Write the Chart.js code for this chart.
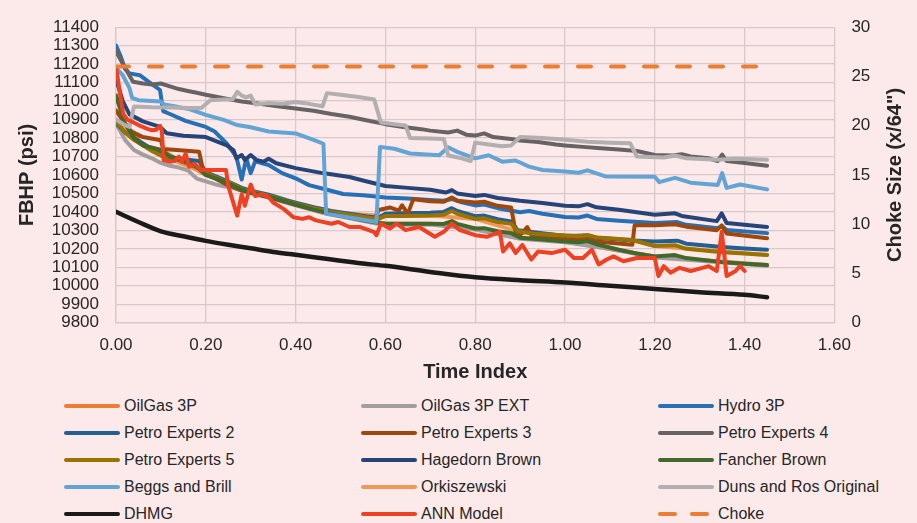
<!DOCTYPE html>
<html>
<head>
<meta charset="utf-8">
<script src="https://cdn.jsdelivr.net/npm/chart.js@4.4.1/dist/chart.umd.min.js"></script>
<style>
  html, body { margin: 0; padding: 0; background: #fceaeb; }
  #wrap { position: relative; width: 917px; height: 523px; overflow: hidden; }
  #fbhp { display: block; }
  #legend {
    position: absolute; left: 64px; top: 392px;
    display: grid; grid-template-columns: 297px 297px 297px; grid-auto-rows: 27px;
    font: 16px "Liberation Sans", Arial, sans-serif; color: #262626;
  }
  .item { display: flex; align-items: center; white-space: nowrap; }
  .swatch { width: 56px; height: 4px; border-radius: 2px; margin-right: 4px; }
  .dashes { display: flex; justify-content: space-between; width: 51px; margin-right: 9px; }
  .dashes span { width: 19px; height: 4px; border-radius: 2px; }
</style>
</head>
<body>
<div id="wrap">
  <canvas id="fbhp" width="917" height="392"></canvas>
  <div id="legend"></div>
</div>
<script>
// [time index, FBHP psi]
var oilGas3P = [[0,11030],[0.02,10880],[0.06,10760],[0.1,10735],[0.2,10600],[0.3,10505],[0.4,10440],[0.5,10380],[0.6,10336],[0.7,10336],[0.8,10310],[0.9,10260],[1.0,10240],[1.2,10158],[1.45,10112]];
var oilGas3PExt = [[0,10880],[0.02,10790],[0.04,10735],[0.06,10710],[0.08,10690],[0.1,10665],[0.12,10650],[0.14,10640],[0.16,10625],[0.18,10580],[0.2,10565],[0.22,10550],[0.24,10538],[0.26,10530],[0.3,10500],[0.34,10477],[0.4,10435],[0.46,10395],[0.52,10365],[0.58,10337],[0.64,10330],[0.7,10331],[0.8,10305],[0.9,10255],[1.0,10235],[1.1,10200],[1.2,10153],[1.3,10135],[1.45,10108]];
var hydro3P = [[0,11300],[0.01,11245],[0.02,11175],[0.03,11150],[0.053,11140],[0.07,11110],[0.098,11060],[0.105,10946],[0.12,10930],[0.155,10893],[0.2,10860],[0.22,10835],[0.247,10769],[0.268,10699],[0.28,10575],[0.29,10690],[0.3,10610],[0.31,10674],[0.34,10654],[0.37,10610],[0.4,10582],[0.43,10545],[0.47,10520],[0.506,10497],[0.55,10490],[0.6,10478],[0.65,10472],[0.7,10465],[0.73,10460],[0.748,10470],[0.77,10452],[0.8,10435],[0.82,10440],[0.85,10420],[0.9,10398],[0.92,10405],[0.95,10390],[1.0,10372],[1.03,10370],[1.05,10380],[1.07,10362],[1.12,10352],[1.2,10340],[1.25,10345],[1.27,10330],[1.34,10312],[1.35,10322],[1.36,10302],[1.45,10285]];
var petroExperts2 = [[0,10880],[0.02,10830],[0.04,10800],[0.06,10770],[0.08,10740],[0.1,10720],[0.12,10692],[0.16,10682],[0.185,10676],[0.2,10615],[0.24,10575],[0.28,10530],[0.3,10515],[0.34,10493],[0.38,10463],[0.4,10450],[0.44,10425],[0.48,10405],[0.52,10390],[0.56,10375],[0.585,10368],[0.6,10390],[0.64,10393],[0.7,10395],[0.73,10400],[0.748,10420],[0.76,10405],[0.8,10377],[0.82,10380],[0.85,10360],[0.88,10348],[0.895,10300],[0.93,10290],[1.0,10270],[1.05,10272],[1.07,10260],[1.15,10245],[1.2,10240],[1.25,10244],[1.27,10228],[1.35,10210],[1.4,10202],[1.45,10195]];
var petroExperts3 = [[0,10950],[0.03,10840],[0.06,10805],[0.1,10788],[0.105,10740],[0.15,10733],[0.185,10726],[0.195,10615],[0.22,10582],[0.245,10550],[0.28,10515],[0.34,10480],[0.4,10438],[0.46,10402],[0.52,10378],[0.575,10360],[0.585,10410],[0.61,10424],[0.63,10407],[0.637,10436],[0.65,10389],[0.662,10469],[0.7,10458],[0.73,10455],[0.748,10478],[0.76,10460],[0.8,10451],[0.82,10455],[0.85,10433],[0.88,10424],[0.89,10292],[0.9,10274],[0.916,10318],[0.926,10270],[0.95,10262],[1.0,10250],[1.05,10252],[1.07,10240],[1.15,10222],[1.155,10327],[1.2,10327],[1.245,10333],[1.27,10320],[1.338,10301],[1.349,10327],[1.36,10283],[1.45,10257]];
var petroExperts4 = [[0,11270],[0.02,11180],[0.038,11105],[0.06,11095],[0.08,11090],[0.1,11095],[0.12,11080],[0.14,11065],[0.16,11055],[0.18,11045],[0.2,11034],[0.24,11015],[0.28,10998],[0.32,10985],[0.36,10972],[0.4,10960],[0.44,10948],[0.48,10930],[0.52,10915],[0.56,10895],[0.6,10875],[0.64,10860],[0.68,10848],[0.7,10840],[0.74,10830],[0.76,10840],[0.78,10818],[0.8,10813],[0.82,10825],[0.84,10805],[0.88,10795],[0.9,10787],[0.94,10778],[0.98,10765],[1.0,10760],[1.04,10752],[1.08,10745],[1.12,10738],[1.16,10730],[1.2,10708],[1.24,10705],[1.26,10712],[1.28,10700],[1.32,10690],[1.34,10675],[1.35,10710],[1.36,10675],[1.4,10665],[1.45,10650]];
var petroExperts5 = [[0,10890],[0.02,10830],[0.04,10790],[0.06,10760],[0.08,10730],[0.1,10705],[0.12,10690],[0.14,10680],[0.16,10660],[0.18,10640],[0.2,10610],[0.22,10590],[0.24,10570],[0.26,10550],[0.28,10525],[0.3,10510],[0.34,10488],[0.38,10458],[0.4,10445],[0.44,10420],[0.48,10400],[0.52,10385],[0.56,10370],[0.585,10362],[0.6,10378],[0.64,10378],[0.7,10380],[0.73,10385],[0.748,10405],[0.76,10390],[0.8,10362],[0.82,10365],[0.85,10345],[0.88,10335],[0.895,10295],[0.93,10282],[1.0,10272],[1.03,10268],[1.05,10275],[1.07,10262],[1.15,10248],[1.2,10215],[1.245,10220],[1.27,10200],[1.35,10182],[1.4,10175],[1.45,10167]];
var hagedornBrown = [[0,11120],[0.015,11000],[0.03,10928],[0.06,10890],[0.098,10860],[0.113,10826],[0.15,10812],[0.2,10805],[0.247,10760],[0.262,10733],[0.268,10690],[0.28,10708],[0.287,10681],[0.3,10708],[0.313,10681],[0.328,10672],[0.34,10688],[0.357,10663],[0.4,10637],[0.46,10610],[0.52,10589],[0.55,10570],[0.6,10540],[0.65,10530],[0.7,10520],[0.735,10505],[0.748,10518],[0.76,10500],[0.8,10486],[0.82,10492],[0.85,10475],[0.9,10460],[0.95,10448],[1.0,10433],[1.03,10430],[1.05,10442],[1.07,10425],[1.12,10412],[1.2,10385],[1.245,10392],[1.26,10378],[1.338,10350],[1.349,10392],[1.36,10340],[1.45,10318]];
var fancherBrown = [[0,11030],[0.02,10880],[0.04,10800],[0.06,10760],[0.1,10735],[0.12,10700],[0.16,10670],[0.18,10645],[0.2,10600],[0.24,10565],[0.28,10520],[0.3,10505],[0.34,10482],[0.38,10455],[0.4,10440],[0.44,10412],[0.48,10390],[0.52,10370],[0.56,10350],[0.6,10336],[0.7,10336],[0.73,10335],[0.748,10350],[0.76,10335],[0.8,10310],[0.82,10312],[0.85,10295],[0.88,10285],[0.9,10260],[0.95,10250],[1.0,10240],[1.03,10236],[1.05,10242],[1.07,10225],[1.12,10195],[1.16,10175],[1.2,10158],[1.245,10166],[1.27,10150],[1.35,10128],[1.4,10119],[1.45,10112]];
var beggsBrill = [[0,11180],[0.015,11140],[0.03,11070],[0.036,11017],[0.05,11005],[0.1,10998],[0.107,10981],[0.13,10972],[0.165,10955],[0.2,10925],[0.24,10898],[0.27,10870],[0.3,10858],[0.34,10835],[0.4,10825],[0.44,10790],[0.462,10769],[0.468,10390],[0.5,10378],[0.54,10362],[0.58,10345],[0.588,10752],[0.62,10742],[0.655,10716],[0.72,10707],[0.74,10750],[0.76,10725],[0.8,10690],[0.83,10707],[0.86,10672],[0.89,10678],[0.92,10645],[0.95,10627],[1.0,10619],[1.03,10612],[1.05,10625],[1.09,10592],[1.2,10590],[1.21,10561],[1.245,10584],[1.28,10558],[1.34,10545],[1.35,10610],[1.36,10530],[1.39,10548],[1.45,10522]];
var orkiszewski = [[0,10890],[0.04,10790],[0.1,10705],[0.2,10610],[0.3,10510],[0.4,10445],[0.5,10392],[0.6,10378],[0.7,10380],[0.8,10362],[0.9,10290],[1.0,10272],[1.15,10248],[1.2,10215],[1.45,10167]];
var dunsRosOriginal = [[0,10900],[0.02,10870],[0.03,10860],[0.04,10970],[0.08,10966],[0.12,10965],[0.16,10962],[0.19,10962],[0.21,11005],[0.24,11008],[0.26,11010],[0.27,11050],[0.28,11030],[0.29,11020],[0.3,11030],[0.31,10982],[0.34,10990],[0.37,10985],[0.4,10995],[0.43,10985],[0.46,10972],[0.47,11043],[0.5,11034],[0.54,11022],[0.575,11008],[0.59,10884],[0.62,10875],[0.645,10868],[0.655,10800],[0.7,10798],[0.73,10795],[0.74,10705],[0.77,10690],[0.79,10675],[0.8,10775],[0.83,10765],[0.86,10755],[0.88,10760],[0.9,10805],[0.95,10800],[1.0,10790],[1.05,10780],[1.1,10775],[1.145,10772],[1.16,10700],[1.22,10695],[1.245,10705],[1.27,10690],[1.34,10682],[1.38,10688],[1.45,10682]];
var dhmg = [[0,10400],[0.02,10378],[0.05,10345],[0.1,10295],[0.15,10268],[0.2,10243],[0.25,10222],[0.3,10203],[0.35,10183],[0.4,10168],[0.45,10152],[0.5,10135],[0.55,10120],[0.6,10108],[0.7,10075],[0.8,10046],[0.9,10030],[1.0,10018],[1.1,10000],[1.2,9983],[1.3,9965],[1.4,9951],[1.45,9938]];
var annModel = [[0,11185],[0.016,10930],[0.025,10900],[0.038,10886],[0.05,10870],[0.07,10850],[0.08,10842],[0.09,10845],[0.098,10866],[0.102,10840],[0.106,10680],[0.12,10672],[0.13,10675],[0.14,10699],[0.147,10670],[0.155,10716],[0.163,10645],[0.175,10660],[0.19,10627],[0.245,10627],[0.25,10540],[0.26,10460],[0.27,10380],[0.28,10495],[0.287,10433],[0.3,10548],[0.31,10486],[0.325,10495],[0.34,10480],[0.35,10451],[0.374,10415],[0.395,10371],[0.415,10362],[0.43,10371],[0.445,10354],[0.48,10336],[0.495,10345],[0.52,10318],[0.544,10318],[0.574,10292],[0.58,10274],[0.59,10336],[0.61,10310],[0.625,10336],[0.645,10301],[0.675,10318],[0.71,10265],[0.73,10292],[0.748,10336],[0.766,10301],[0.8,10274],[0.826,10265],[0.855,10292],[0.862,10186],[0.877,10230],[0.89,10177],[0.905,10221],[0.925,10142],[0.94,10186],[0.97,10177],[1.0,10195],[1.02,10150],[1.04,10150],[1.06,10195],[1.075,10115],[1.093,10142],[1.108,10159],[1.13,10133],[1.16,10150],[1.2,10150],[1.208,10053],[1.22,10106],[1.235,10071],[1.255,10097],[1.28,10080],[1.3,10093],[1.32,10106],[1.338,10080],[1.349,10292],[1.36,10053],[1.38,10080],[1.39,10106],[1.4,10080]];
// choke size x/64" (right axis)
var choke = [[0,26],[1.45,26]];

var xTicks = { min: 0, max: 1.6, step: 0.2 };
var yTicks = { min: 9800, max: 11400, step: 100 };
var y1Ticks = { min: 0, max: 30, step: 5 };

function pts(arr) {
  return arr.map(function (p) { return { x: p[0], y: p[1] }; });
}

function line(label, arr, color, z, extra) {
  var ds = {
    label: label,
    data: pts(arr),
    borderColor: color,
    backgroundColor: color,
    borderWidth: 4,
    pointRadius: 0,
    tension: 0,
    borderJoinStyle: 'round',
    borderCapStyle: 'round',
    yAxisID: 'y',
    order: z
  };
  for (var k in extra) ds[k] = extra[k];
  return ds;
}

// higher order = drawn underneath (later series sit on top, like Excel)
var datasets = [
  line('OilGas 3P', oilGas3P, '#ED7D31', 40),
  line('OilGas 3P EXT', oilGas3PExt, '#A29E9F', 19),
  line('Hydro 3P', hydro3P, '#2770B5', 18),
  line('Petro Experts 2', petroExperts2, '#255E91', 17),
  line('Petro Experts 3', petroExperts3, '#9E480E', 16),
  line('Petro Experts 4', petroExperts4, '#676364', 15),
  line('Petro Experts 5', petroExperts5, '#997300', 14),
  line('Hagedorn Brown', hagedornBrown, '#264478', 13),
  line('Fancher Brown', fancherBrown, '#43682B', 12),
  line('Beggs and Brill', beggsBrill, '#64A4D4', 11),
  line('Orkiszewski', orkiszewski, '#F1975A', 39),
  line('Duns and Ros Original', dunsRosOriginal, '#B3AEAF', 10),
  line('DHMG', dhmg, '#1A1A1A', 9, { borderWidth: 4.5, cubicInterpolationMode: 'monotone' }),
  line('ANN Model', annModel, '#EE4023', 8),
  line('Choke', choke, '#ED7D31', 1, { yAxisID: 'y1', borderDash: [13, 20] })
];

var gridColor = '#d8c8ca';
var tickFont = { size: 17 };

var rightTitle = {
  id: 'rightTitle',
  afterDraw: function (chart) {
    var ctx = chart.ctx, ca = chart.chartArea;
    ctx.save();
    ctx.translate(chart.scales.y1.right - 22, (ca.top + ca.bottom) / 2);
    ctx.rotate(-Math.PI / 2);
    ctx.font = 'bold 20px "Liberation Sans", Arial, sans-serif';
    ctx.fillStyle = '#262626';
    ctx.textAlign = 'center';
    ctx.textBaseline = 'middle';
    ctx.fillText('Choke Size (x/64")', 0, 0);
    ctx.restore();
  }
};

Chart.defaults.font.family = '"Liberation Sans", Arial, sans-serif';
Chart.defaults.color = '#262626';

var ctx = document.getElementById('fbhp').getContext('2d');
var chart = new Chart(ctx, {
  type: 'line',
  data: { datasets: datasets },
  plugins: [rightTitle],
  options: {
    responsive: false,
    animation: false,
    layout: { padding: { top: 21, left: 0, right: 0, bottom: 0 } },
    plugins: { legend: { display: false }, tooltip: { enabled: false } },
    scales: {
      x: {
        type: 'linear',
        min: xTicks.min, max: xTicks.max,
        afterFit: function (s) { s.height = 69.3; },
        grid: { color: gridColor, lineWidth: 1.3, drawTicks: false },
        border: { color: gridColor, width: 1.3 },
        ticks: { stepSize: xTicks.step, padding: 12, font: tickFont, maxRotation: 0, autoSkip: false,
          callback: function (v) { return Number(v).toFixed(2); } },
        title: { display: true, text: 'Time Index', font: { size: 20, weight: 'bold' }, padding: { top: 0, bottom: 8 } }
      },
      y: {
        position: 'left',
        min: yTicks.min, max: yTicks.max,
        afterFit: function (s) { s.width = 116; },
        grid: { color: gridColor, lineWidth: 1.3, drawTicks: false },
        border: { color: gridColor, width: 1.3 },
        ticks: { stepSize: yTicks.step, padding: 17, font: tickFont, autoSkip: false,
          callback: function (v) { return String(v); } },
        title: { display: true, text: 'FBHP (psi)', font: { size: 20, weight: 'bold' }, padding: { top: 15, bottom: 0 } }
      },
      y1: {
        position: 'right',
        min: y1Ticks.min, max: y1Ticks.max,
        afterFit: function (s) { s.width = 82.6; },
        grid: { display: false, drawTicks: false },
        border: { display: false },
        ticks: { stepSize: y1Ticks.step, padding: 17, font: tickFont, autoSkip: false }
      }
    }
  }
});

// legend: three columns, built from the chart's datasets
var legendBox = document.getElementById('legend');
chart.data.datasets.forEach(function (ds) {
  var item = document.createElement('div');
  item.className = 'item';
  if (ds.borderDash) {
    var d = document.createElement('div');
    d.className = 'dashes';
    d.innerHTML = '<span></span><span></span>';
    d.querySelectorAll('span').forEach(function (s) { s.style.background = ds.borderColor; });
    item.appendChild(d);
  } else {
    var sw = document.createElement('div');
    sw.className = 'swatch';
    sw.style.background = ds.borderColor;
    item.appendChild(sw);
  }
  var txt = document.createElement('span');
  txt.textContent = ds.label;
  item.appendChild(txt);
  legendBox.appendChild(item);
});
</script>
</body>
</html>
